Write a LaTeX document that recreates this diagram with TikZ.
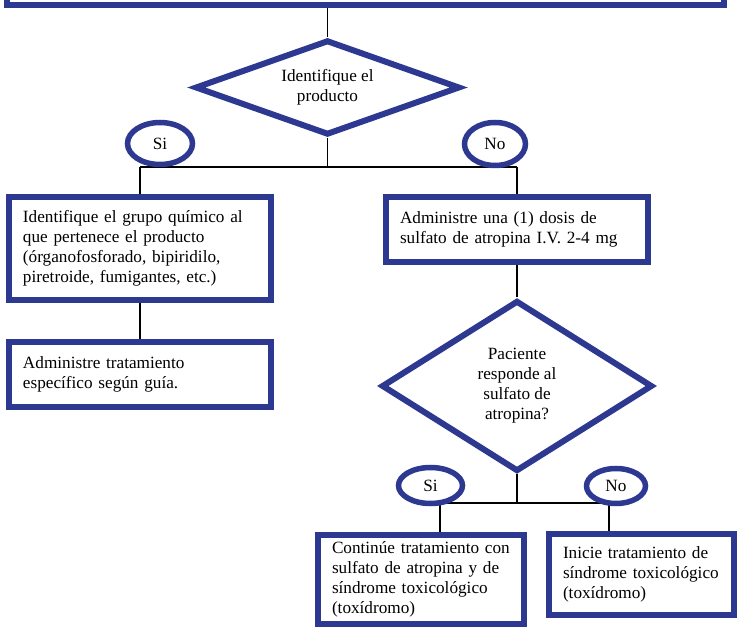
\documentclass[tikz,border=0pt]{standalone}
\usepackage{fontspec}
\setmainfont{Liberation Serif}
\usetikzlibrary{shapes.geometric}
\definecolor{fb}{RGB}{45,56,144}
\pgfdeclarelayer{bg}
\pgfsetlayers{bg,main}
\begin{document}
\begin{tikzpicture}[x=1pt,y=-1pt,
  txt/.style={font=\fontsize{17.2}{20}\selectfont, text=black},
  box/.style={txt, draw=fb, line width=6pt, fill=white, rectangle, inner xsep=14pt, inner ysep=0pt, align=left},
  dec/.style={txt, draw=fb, line width=6pt, fill=white, diamond, inner sep=0pt, align=center},
  oval/.style={txt, draw=fb, line width=5.5pt, fill=white, ellipse, inner sep=0pt},
  link/.style={draw=black, line width=1.3pt}]
\useasboundingbox (0,0) rectangle (737,628);

\node[box, minimum width=717pt, minimum height=35pt] (top) at (365.5,-12.5) {};
\node[dec, shape aspect=2.8, minimum width=265pt, minimum height=95pt] (d1) at (327.5,87.5) {Identifique el\\producto};
\node[box, text width=234pt, minimum height=103pt] (b1) at (140,248.5) {Identifique el grupo químico al\\que pertenece el producto\\(órganofosforado, bipiridilo,\\piretroide, fumigantes, etc.)};
\node[box, text width=234pt, minimum height=65pt] (b2) at (140,374.5) {Administre tratamiento\\específico según guía.};
\node[box, text width=234pt, minimum height=65pt] (b3) at (517,229.5) {Administre una (1) dosis de\\sulfato de atropina I.V. 2-4 mg};
\node[dec, shape aspect=1.58, minimum width=271pt, minimum height=171pt] (d2) at (517,386) {Paciente\\responde al\\sulfato de\\atropina?};
\node[box, text width=178pt, minimum height=89pt] (b4) at (421,579.5) {Continúe tratamiento con\\sulfato de atropina y de\\síndrome toxicológico\\(toxídromo)};
\node[box, text width=157pt, minimum height=81pt] (b5) at (641.5,574.5) {Inicie tratamiento de\\síndrome toxicológico\\(toxídromo)};

\node[oval, minimum width=65pt, minimum height=42pt] (si1) at (160,143.5) {Si};
\node[oval, minimum width=61pt, minimum height=43pt] (no1) at (495,144) {No};
\node[oval, minimum width=64pt, minimum height=36pt] (si2) at (430.5,485.5) {Si};
\node[oval, minimum width=59pt, minimum height=35pt] (no2) at (616,486) {No};

\coordinate (h1) at (0,167);
\coordinate (h2) at (0,503);
\coordinate (k1) at (440,503);
\coordinate (k2) at (609,503);
\begin{pgfonlayer}{bg}
\draw[link] (d1.north |- top.south) -- (d1.north);
\draw[link] (d1.south) -- (d1.south |- h1);
\draw[link] (b1.north |- h1) -- (b3.north |- h1);
\draw[link] (b1.north |- h1) -- (b1.north);
\draw[link] (b3.north |- h1) -- (b3.north);
\draw[link] (b1) -- (b2);
\draw[link] (b3) -- (d2);
\draw[link] (d2.south) -- (d2.south |- h2);
\draw[link] (k1) -- (k2);
\draw[link] (k1) -- (k1 |- b4.north);
\draw[link] (k2) -- (k2 |- b5.north);
\end{pgfonlayer}
\end{tikzpicture}
\end{document}
